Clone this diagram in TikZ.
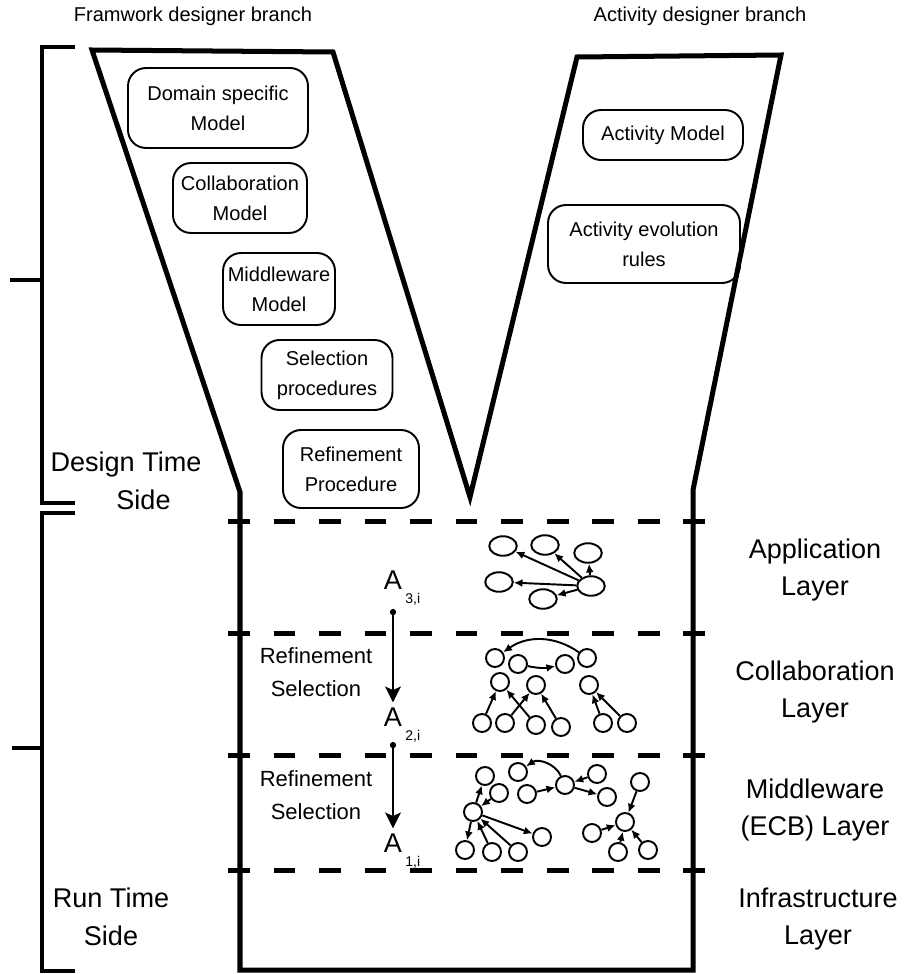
\documentclass[tikz,border=0pt]{standalone}
\usepackage{fontspec}
\setmainfont{Liberation Sans}
\usetikzlibrary{arrows.meta,positioning,shapes.geometric}

\begin{document}
\begin{tikzpicture}[
  x=0.02cm, y=-0.02cm,
  wall/.style={line width=2.85pt, line join=miter},
  brk/.style={line width=2.4pt},
  layer/.style={line width=2.85pt, dash pattern=on 12.5pt off 13.4pt},
  box/.style={draw, rounded corners=0.36cm, line width=1.1pt, align=center,
    inner sep=0pt, font=\fontsize{11.4}{17}\selectfont},
  head/.style={font=\fontsize{11.4}{17}\selectfont},
  big/.style={align=center, font=\fontsize{15.4}{21.6}\selectfont},
  steplbl/.style={align=center, font=\fontsize{12.5}{18.8}\selectfont},
  albl/.style={inner sep=0pt, font=\fontsize{15.4}{18}\selectfont},
  sublbl/.style={inner sep=0pt, font=\fontsize{8}{9}\selectfont},
  nd/.style={draw, circle, line width=1.1pt, minimum size=0.36cm, inner sep=0pt},
  app/.style={draw, ellipse, line width=1.1pt, minimum width=0.55cm,
    minimum height=0.39cm, inner sep=0pt},
  arr/.style={-{Latex[length=5pt,width=4.5pt]}, line width=1.1pt},
  refarr/.style={{Circle[length=3.5pt]}-{Stealth[length=9pt,width=9pt,inset=2pt]},
    line width=1.1pt}
]
\useasboundingbox (0,0) rectangle (904,974);

% V shaped outline
\draw[wall] (240,970) -- (240,492) -- (92,50) -- (333,52) -- (470,497)
  -- (577,57) -- (781,55) -- (693,490) -- (693,970) -- cycle;

% layers
\foreach \y in {521,633,755,870}
  \draw[layer] (228,\y) -- (708,\y);

% brackets
\draw[brk] (75,47) -- (42,47) -- (42,503) -- (75,503);
\draw[brk] (10,280) -- (42,280);
\draw[brk] (75,513) -- (42,513) -- (42,971) -- (75,971);
\draw[brk] (12,748) -- (42,748);

% headings and side labels
\node[head] (fwb) at (193,16) {Framwork designer branch};
\node[head] (adb) at (700,16) {Activity designer branch};
\node[big] (dts) at (126,481) {Design Time\\\hspace*{0.7cm}Side};
\node[big] (rts) at (111,917) {Run Time\\Side};
\node[big] (appl) at (815,570) {Application\\Layer};
\node[big] (coll) at (815,692) {Collaboration\\Layer};
\node[big] (midl) at (815,810) {Middleware\\(ECB) Layer};
\node[big] (infl) at (818,919) {Infrastructure\\Layer};

% framework models
\node[box, minimum width=3.6cm, minimum height=1.6cm] (dsm) at (218,108) {Domain specific\\Model};
\node[box, minimum width=2.68cm, minimum height=1.4cm] (colm) at (240,198) {Collaboration\\Model};
\node[box, minimum width=2.24cm, minimum height=1.44cm] (midm) at (279,289) {Middleware\\Model};
\node[box, minimum width=2.62cm, minimum height=1.4cm] (selp) at (327,375) {Selection\\procedures};
\node[box, minimum width=2.72cm, minimum height=1.56cm] (refp) at (351,469) {Refinement\\Procedure};

% activity models
\node[box, minimum width=3.2cm, minimum height=1.0cm] (actm) at (663,135) {Activity Model};
\node[box, minimum width=3.84cm, minimum height=1.56cm] (actr) at (644,244) {Activity evolution\\rules};

% refinement chain
\node[albl] (a3) at (393,580) {A};
\node[sublbl, anchor=west] (a3s) at (405,599) {3,i};
\node[albl] (a2) at (393,717) {A};
\node[sublbl, anchor=west] (a2s) at (405,736) {2,i};
\node[albl] (a1) at (393,843) {A};
\node[sublbl, anchor=west] (a1s) at (405,862) {1,i};
\coordinate (t3) at (393,609);
\coordinate (t2) at (393,742);
\draw[refarr] (t3) -- ([yshift=0.1cm]a2.north);
\draw[refarr] (t2) -- ([yshift=0.1cm]a1.north);
\node[steplbl] (rs1) at (316,672) {Refinement\\Selection};
\node[steplbl] (rs2) at (316,795) {Refinement\\Selection};

% application layer graph
\node[app] (e1) at (503,546) {};
\node[app] (e2) at (545,545) {};
\node[app] (e3) at (588,553) {};
\node[app] (e4) at (499,582) {};
\node[app] (e5) at (543,599) {};
\node[app] (eh) at (591,586) {};
\foreach \n in {e1,e2,e3,e4,e5}
  \draw[arr] (eh) -- (\n);

% collaboration layer graph
\node[nd] (c1) at (495,658) {};
\node[nd] (c2) at (518,664) {};
\node[nd] (c3) at (565,664) {};
\node[nd] (c4) at (587,658) {};
\node[nd] (c5) at (500,682) {};
\node[nd] (c6) at (536,685) {};
\node[nd] (c7) at (589,685) {};
\node[nd] (b1) at (482,723) {};
\node[nd] (b2) at (505,723) {};
\node[nd] (b3) at (536,725) {};
\node[nd] (b4) at (561,727) {};
\node[nd] (b5) at (603,723) {};
\node[nd] (b6) at (627,723) {};
\draw[arr] (c4) to[bend right=35] (c1);
\draw[arr] (c2) to[bend right=12] (c3);
\draw[arr] (b1) -- (c5);
\draw[arr] (b3) -- (c5);
\draw[arr] (b2) -- (c6);
\draw[arr] (b4) -- (c6);
\draw[arr] (b5) -- (c7);
\draw[arr] (b6) -- (c7);

% middleware layer graph
\node[nd] (m1) at (485,776) {};
\node[nd] (m2) at (518,772) {};
\node[nd] (m3) at (597,774) {};
\node[nd] (m4) at (640,782) {};
\node[nd] (m5) at (499,793) {};
\node[nd] (m6) at (527,794) {};
\node[nd] (m7) at (565,785) {};
\node[nd] (m8) at (607,797) {};
\node[nd] (m9) at (473,812) {};
\node[nd] (m10) at (542,837) {};
\node[nd] (m11) at (592,833) {};
\node[nd] (m12) at (625,822) {};
\node[nd] (m13) at (465,850) {};
\node[nd] (m14) at (492,852) {};
\node[nd] (m15) at (518,852) {};
\node[nd] (m16) at (618,852) {};
\node[nd] (m17) at (648,850) {};
\draw[arr] (m9) -- (m1);
\draw[arr] (m5) -- (m9);
\draw[arr] (m9) -- (m13);
\draw[arr] (m14) -- (m9);
\draw[arr] (m15) -- (m9);
\draw[arr] (m9) -- (m10);
\draw[arr] (m7) to[bend right=50] (m2);
\draw[arr] (m6) -- (m7);
\draw[arr] (m3) -- (m7);
\draw[arr] (m7) -- (m8);
\draw[arr] (m4) -- (m12);
\draw[arr] (m11) -- (m12);
\draw[arr] (m16) -- (m12);
\draw[arr] (m17) -- (m12);
\end{tikzpicture}
\end{document}
